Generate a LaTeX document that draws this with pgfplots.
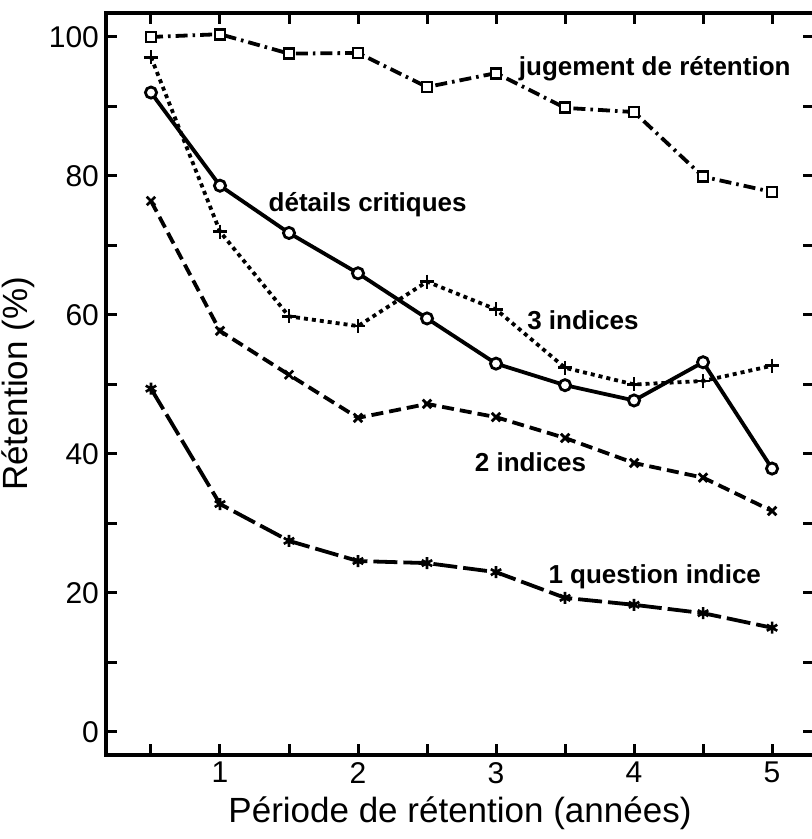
\documentclass[border=0pt]{standalone}
\usepackage{fontspec}
\setmainfont{Liberation Sans}
\usepackage{pgfplots}
\pgfplotsset{compat=1.18}
\begin{document}
\begin{tikzpicture}
\useasboundingbox (-53pt,-42pt) rectangle (353pt,377.5pt);
\begin{axis}[
  at={(0,0)}, anchor=south west,
  scale only axis, width=354pt, height=371pt,
  xmin=0.174, xmax=5.304, ymin=-3.31, ymax=103.45,
  xtick={0.5,1,1.5,2,2.5,3,3.5,4,4.5,5},
  xticklabels={,1,,2,,3,,4,,5},
  ytick={0,10,20,30,40,50,60,70,80,90,100},
  yticklabels={0,,20,,40,,60,,80,,100},
  tick align=inside, major tick length=5.5pt,
  tick style={line width=1.5pt, black},
  axis line style={line width=2pt},
  /pgf/number format/assume math mode=true,
  ticklabel style={font=\fontsize{15}{17}\selectfont},
  xlabel={Période de rétention (années)},
  ylabel={Rétention (\%)},
  label style={font=\fontsize{17.5}{20}\selectfont},
  mark options={solid, fill=white},
  every axis plot/.append style={black, line width=1.9pt},
  clip=false,
]
% jugement de retention
\addplot[dash pattern=on 6pt off 2.5pt on 1.3pt off 2.5pt, mark=square*, mark size=2.5pt, mark options={solid, fill=white, line width=1.4pt}] coordinates {
(0.5,100) (1,100.4) (1.5,97.6) (2,97.7) (2.5,92.8) (3,94.8) (3.5,89.8) (4,89.2) (4.5,79.9) (5,77.7)};
% details critiques
\addplot[solid, mark=*, mark size=2.8pt, mark options={solid, fill=white, line width=1.4pt}] coordinates {
(0.5,92.0) (1,78.6) (1.5,71.8) (2,66.0) (2.5,59.5) (3,53.0) (3.5,49.9) (4,47.7) (4.5,53.2) (5,37.9)};
% 3 indices
\addplot[dash pattern=on 2pt off 2pt, mark=+, mark size=3.5pt, mark options={solid, line width=1.4pt}] coordinates {
(0.5,97.1) (1,72.0) (1.5,59.8) (2,58.4) (2.5,64.8) (3,60.8) (3.5,52.4) (4,50.0) (4.5,50.5) (5,52.7)};
% 2 indices
\addplot[dash pattern=on 6pt off 3pt, mark=x, mark size=3pt, mark options={solid, line width=1.4pt}] coordinates {
(0.5,76.4) (1,57.7) (1.5,51.4) (2,45.2) (2.5,47.2) (3,45.3) (3.5,42.3) (4,38.7) (4.5,36.6) (5,31.8)};
% 1 question indice
\addplot[dash pattern=on 12pt off 3pt, mark=asterisk, mark size=3pt, mark options={solid, line width=1.3pt}] coordinates {
(0.5,49.4) (1,32.8) (1.5,27.5) (2,24.6) (2.5,24.3) (3,23.0) (3.5,19.3) (4,18.3) (4.5,17.1) (5,15.0)};
\begin{scope}[every node/.style={font=\bfseries\fontsize{13}{15}\selectfont}]
\node at (axis cs:4.15,95.5) {jugement de rétention};
\node at (axis cs:2.07,75.8) {détails critiques};
\node at (axis cs:3.63,59.3) {3 indices};
\node at (axis cs:3.25,38.8) {2 indices};
\node at (axis cs:4.15,22.3) {1 question indice};
\end{scope}
\end{axis}
\end{tikzpicture}
\end{document}
